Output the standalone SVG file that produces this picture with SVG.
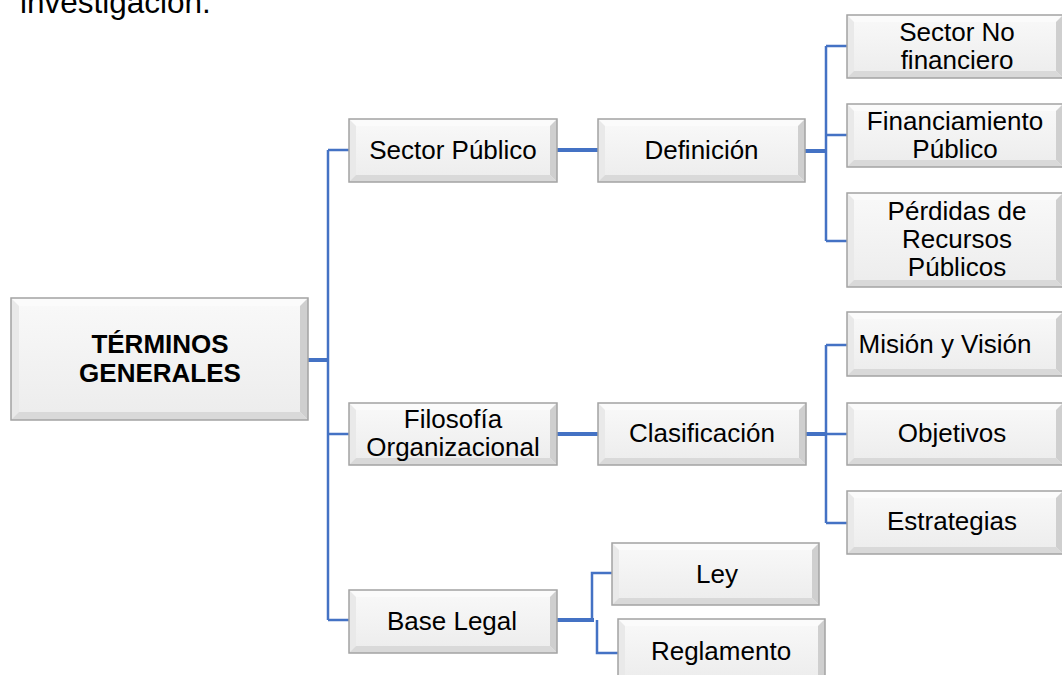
<svg xmlns="http://www.w3.org/2000/svg" width="1062" height="675" viewBox="0 0 1062 675">
<style>
.t{font-family:"Liberation Sans",Arial,sans-serif;font-size:26px;fill:#000;text-anchor:middle}
.b{font-weight:bold}
.face{fill:url(#fg)}
.bt{fill:#fbfbfb}
.bl{fill:#e9e9e9}
.br{fill:#cfcfcf}
.bb{fill:#d9d9d9}
.edge{fill:none;stroke:#a3a3a3;stroke-width:1.5}
.c{fill:none;stroke:#4472c4;stroke-width:2.5}
.ck{fill:none;stroke:#4472c4;stroke-width:4}
</style>
<defs>
<linearGradient id="fg" x1="0" y1="0" x2="0" y2="1">
<stop offset="0" stop-color="#f9f9f9"/>
<stop offset="1" stop-color="#ececec"/>
</linearGradient>
</defs>
<rect width="1062" height="675" fill="#fff"/>
<text class="t" x="20" y="13" style="font-size:31.5px;text-anchor:start">investigación.</text>

<g id="connectors">
<path class="ck" d="M308,360 H328"/>
<path class="c" d="M328,150 V620 M328,150 H349 M328,434 H349 M328,620 H349"/>
<path class="ck" d="M557,150 H598"/>
<path class="ck" d="M805,151 H826"/>
<path class="c" d="M826,46 V241 M826,46 H847 M826,135 H847 M826,241 H847"/>
<path class="ck" d="M557,434 H598"/>
<path class="ck" d="M806,434 H826"/>
<path class="c" d="M826,345 V523 M826,345 H847 M826,434 H847 M826,523 H847"/>
<path class="ck" d="M557,620 H594"/>
<path class="c" d="M592,620 V573 H612 M597,620 V653 H618"/>
</g>

<g id="n-root">
<rect class="face" x="11" y="298" width="297" height="122"/>
<polygon class="bt" points="11,298 308,298 300,306 19,306"/>
<polygon class="bl" points="11,298 19,306 19,412 11,420"/>
<polygon class="br" points="308,298 308,420 300,412 300,306"/>
<polygon class="bb" points="11,420 308,420 300,412 19,412"/>
<rect class="edge" x="11" y="298" width="297" height="122"/>
<text class="t b" x="160" y="353">TÉRMINOS</text>
<text class="t b" x="160" y="382">GENERALES</text>
</g>

<g id="n-sector-publico">
<rect class="face" x="349" y="119" width="208" height="63"/>
<polygon class="bt" points="349,119 557,119 550,126 356,126"/>
<polygon class="bl" points="349,119 356,126 356,175 349,182"/>
<polygon class="br" points="557,119 557,182 550,175 550,126"/>
<polygon class="bb" points="349,182 557,182 550,175 356,175"/>
<rect class="edge" x="349" y="119" width="208" height="63"/>
<text class="t" x="453" y="159">Sector Público</text>
</g>

<g id="n-definicion">
<rect class="face" x="598" y="119" width="207" height="63"/>
<polygon class="bt" points="598,119 805,119 798,126 605,126"/>
<polygon class="bl" points="598,119 605,126 605,175 598,182"/>
<polygon class="br" points="805,119 805,182 798,175 798,126"/>
<polygon class="bb" points="598,182 805,182 798,175 605,175"/>
<rect class="edge" x="598" y="119" width="207" height="63"/>
<text class="t" x="701.5" y="159">Definición</text>
</g>

<g id="n-sector-no-fin">
<rect class="face" x="847" y="15" width="216" height="63"/>
<polygon class="bt" points="847,15 1063,15 1056,22 854,22"/>
<polygon class="bl" points="847,15 854,22 854,71 847,78"/>
<polygon class="br" points="1063,15 1063,78 1056,71 1056,22"/>
<polygon class="bb" points="847,78 1063,78 1056,71 854,71"/>
<rect class="edge" x="847" y="15" width="216" height="63"/>
<text class="t" x="957" y="41">Sector No</text>
<text class="t" x="957" y="69">financiero</text>
</g>

<g id="n-financiamiento">
<rect class="face" x="847" y="104" width="216" height="63"/>
<polygon class="bt" points="847,104 1063,104 1056,111 854,111"/>
<polygon class="bl" points="847,104 854,111 854,160 847,167"/>
<polygon class="br" points="1063,104 1063,167 1056,160 1056,111"/>
<polygon class="bb" points="847,167 1063,167 1056,160 854,160"/>
<rect class="edge" x="847" y="104" width="216" height="63"/>
<text class="t" x="955" y="130">Financiamiento</text>
<text class="t" x="955" y="158">Público</text>
</g>

<g id="n-perdidas">
<rect class="face" x="847" y="193" width="216" height="94"/>
<polygon class="bt" points="847,193 1063,193 1056,200 854,200"/>
<polygon class="bl" points="847,193 854,200 854,280 847,287"/>
<polygon class="br" points="1063,193 1063,287 1056,280 1056,200"/>
<polygon class="bb" points="847,287 1063,287 1056,280 854,280"/>
<rect class="edge" x="847" y="193" width="216" height="94"/>
<text class="t" x="957" y="220">Pérdidas de</text>
<text class="t" x="957" y="248">Recursos</text>
<text class="t" x="957" y="276">Públicos</text>
</g>

<g id="n-filosofia">
<rect class="face" x="349" y="403" width="208" height="62"/>
<polygon class="bt" points="349,403 557,403 550,410 356,410"/>
<polygon class="bl" points="349,403 356,410 356,458 349,465"/>
<polygon class="br" points="557,403 557,465 550,458 550,410"/>
<polygon class="bb" points="349,465 557,465 550,458 356,458"/>
<rect class="edge" x="349" y="403" width="208" height="62"/>
<text class="t" x="453" y="428">Filosofía</text>
<text class="t" x="453" y="456">Organizacional</text>
</g>

<g id="n-clasificacion">
<rect class="face" x="598" y="403" width="208" height="62"/>
<polygon class="bt" points="598,403 806,403 799,410 605,410"/>
<polygon class="bl" points="598,403 605,410 605,458 598,465"/>
<polygon class="br" points="806,403 806,465 799,458 799,410"/>
<polygon class="bb" points="598,465 806,465 799,458 605,458"/>
<rect class="edge" x="598" y="403" width="208" height="62"/>
<text class="t" x="702" y="442">Clasificación</text>
</g>

<g id="n-mision">
<rect class="face" x="847" y="312" width="216" height="64"/>
<polygon class="bt" points="847,312 1063,312 1056,319 854,319"/>
<polygon class="bl" points="847,312 854,319 854,369 847,376"/>
<polygon class="br" points="1063,312 1063,376 1056,369 1056,319"/>
<polygon class="bb" points="847,376 1063,376 1056,369 854,369"/>
<rect class="edge" x="847" y="312" width="216" height="64"/>
<text class="t" x="945" y="353">Misión y Visión</text>
</g>

<g id="n-objetivos">
<rect class="face" x="847" y="403" width="216" height="62"/>
<polygon class="bt" points="847,403 1063,403 1056,410 854,410"/>
<polygon class="bl" points="847,403 854,410 854,458 847,465"/>
<polygon class="br" points="1063,403 1063,465 1056,458 1056,410"/>
<polygon class="bb" points="847,465 1063,465 1056,458 854,458"/>
<rect class="edge" x="847" y="403" width="216" height="62"/>
<text class="t" x="952" y="442">Objetivos</text>
</g>

<g id="n-estrategias">
<rect class="face" x="847" y="491" width="216" height="63"/>
<polygon class="bt" points="847,491 1063,491 1056,498 854,498"/>
<polygon class="bl" points="847,491 854,498 854,547 847,554"/>
<polygon class="br" points="1063,491 1063,554 1056,547 1056,498"/>
<polygon class="bb" points="847,554 1063,554 1056,547 854,547"/>
<rect class="edge" x="847" y="491" width="216" height="63"/>
<text class="t" x="952" y="530">Estrategias</text>
</g>

<g id="n-base-legal">
<rect class="face" x="349" y="590" width="208" height="63"/>
<polygon class="bt" points="349,590 557,590 550,597 356,597"/>
<polygon class="bl" points="349,590 356,597 356,646 349,653"/>
<polygon class="br" points="557,590 557,653 550,646 550,597"/>
<polygon class="bb" points="349,653 557,653 550,646 356,646"/>
<rect class="edge" x="349" y="590" width="208" height="63"/>
<text class="t" x="452" y="630">Base Legal</text>
</g>

<g id="n-ley">
<rect class="face" x="612" y="543" width="207" height="62"/>
<polygon class="bt" points="612,543 819,543 812,550 619,550"/>
<polygon class="bl" points="612,543 619,550 619,598 612,605"/>
<polygon class="br" points="819,543 819,605 812,598 812,550"/>
<polygon class="bb" points="612,605 819,605 812,598 619,598"/>
<rect class="edge" x="612" y="543" width="207" height="62"/>
<text class="t" x="717" y="583">Ley</text>
</g>

<g id="n-reglamento">
<rect class="face" x="618" y="619" width="207" height="63"/>
<polygon class="bt" points="618,619 825,619 818,626 625,626"/>
<polygon class="bl" points="618,619 625,626 625,675 618,682"/>
<polygon class="br" points="825,619 825,682 818,675 818,626"/>
<polygon class="bb" points="618,682 825,682 818,675 625,675"/>
<rect class="edge" x="618" y="619" width="207" height="63"/>
<text class="t" x="721" y="660">Reglamento</text>
</g>
</svg>
